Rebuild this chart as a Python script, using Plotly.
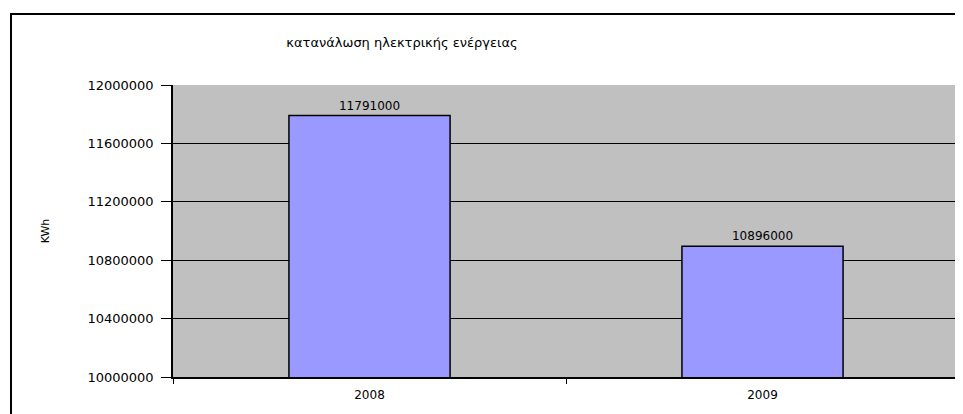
import plotly.graph_objects as go

years = ["2008", "2009"]
consumption = [11791000, 10896000]
y_ticks = [10000000, 10400000, 10800000, 11200000, 11600000, 12000000]

# page body has an 8px margin, so the figure is sized/offset to fit the window
OFF = 8
W, H = 963 - OFF, 414 - OFF
ml, mr, mt, mb = 173 - OFF, 4, 85 - OFF, H - (377 - OFF)
pw, ph = W - ml - mr, H - mt - mb
FONT = "DejaVu Sans, Arial"

fig = go.Figure()
fig.add_trace(go.Bar(
    x=years, y=consumption, width=0.41,
    marker=dict(color="#9999ff", line=dict(color="black", width=1.5)),
    text=[str(v) for v in consumption], textposition="outside",
    textfont=dict(family=FONT, size=12, color="black"),
    cliponaxis=False,
))

fig.update_layout(
    width=W, height=H,
    margin=dict(l=ml, r=mr, t=mt, b=mb),
    paper_bgcolor="white", plot_bgcolor="#c0c0c0",
    showlegend=False,
    font=dict(family=FONT, size=12, color="black"),
    title=dict(text="κατανάλωση ηλεκτρικής ενέργειας", x=(402 - OFF) / W, xanchor="center",
               y=1 - (42 - OFF) / H, yanchor="middle",
               font=dict(family=FONT, size=13, color="black")),
    shapes=[dict(type="rect", xref="paper", yref="paper",
                 x0=(11 - 173) / pw, x1=1.2, y0=-0.5, y1=1 + (85 - 14) / ph,
                 line=dict(color="black", width=2), layer="below")],
)
fig.update_yaxes(
    range=[10000000, 12000000], tickvals=y_ticks, ticktext=[str(v) for v in y_ticks],
    showgrid=True, gridcolor="black", gridwidth=1,
    showline=True, linecolor="black", linewidth=1.5,
    ticks="outside", ticklen=10, tickcolor="black", ticklabelstandoff=5,
    tickfont=dict(size=13),
    title=dict(text="KWh", standoff=36, font=dict(size=11)),
    zeroline=False,
)
fig.update_xaxes(
    showline=True, linecolor="black", linewidth=1.5,
    ticks="outside", tickson="boundaries", ticklen=5, tickcolor="black",
    ticklabelstandoff=6, tickfont=dict(size=12),
    showgrid=False,
)

fig.write_html("out.html")
